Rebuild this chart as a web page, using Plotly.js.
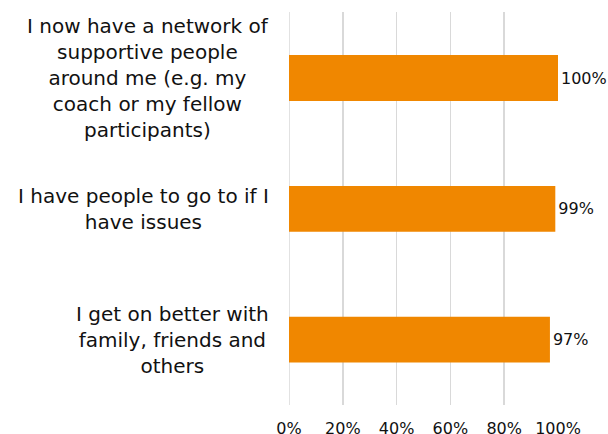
<!DOCTYPE html>
<html>
<head>
<meta charset="utf-8">
<script src="https://cdn.plot.ly/plotly-3.0.1.min.js"></script>
<style>html,body{margin:0;padding:0;background:#fff;}#chart{width:608px;height:434px;}</style>
</head>
<body>
<div id="chart"></div>
<script>
var categories = [
  "I now have a network of<br>supportive people<br>around me (e.g. my<br>coach or my fellow<br>participants)",
  "I have people to go to if I<br>have issues",
  "I get on better with<br>family, friends and<br>others"
];
var values = [100, 99, 97];
var valueLabels = ["100%", "99%", "97%"];
var tickValues = [0, 20, 40, 60, 80, 100];
var tickLabels = ["0%", "20%", "40%", "60%", "80%", "100%"];

var font = "DejaVu Sans, Verdana, sans-serif";
var ids = categories.map(function(_, i){ return "c" + i; });

var trace = {
  type: "bar",
  orientation: "h",
  y: ids,
  x: values,
  text: valueLabels,
  textposition: "outside",
  textfont: {family: font, size: 16, color: "#111"},
  cliponaxis: false,
  marker: {color: "#F08700", line: {width: 0}},
  width: 0.35,
  hoverinfo: "none"
};

var annotations = categories.map(function(c, i){
  return {
    text: c, xref: "paper", yref: "y", x: -0.068, y: ids[i],
    xanchor: "right", yanchor: "middle", align: "center", showarrow: false,
    font: {family: font, size: 20, color: "#111"}
  };
});

var layout = {
  width: 608, height: 434,
  margin: {l: 289, r: 50, t: 12, b: 29},
  paper_bgcolor: "#fff", plot_bgcolor: "#fff",
  showlegend: false,
  xaxis: {
    range: [0, 100], tickvals: tickValues, ticktext: tickLabels,
    showgrid: true, gridcolor: "#d9d9d9", gridwidth: 1.5,
    zeroline: false, showline: false, ticks: "",
    tickfont: {family: font, size: 16, color: "#111"},
    ticklabelstandoff: 12, fixedrange: true
  },
  yaxis: {
    autorange: "reversed", showticklabels: false, showgrid: false,
    zeroline: false, showline: false, ticks: "", fixedrange: true
  },
  shapes: [{type: "line", xref: "x", yref: "paper", x0: 0, x1: 0, y0: 0, y1: 1,
            line: {color: "#d9d9d9", width: 1.5}, layer: "below"}],
  annotations: annotations
};

Plotly.newPlot("chart", [trace], layout, {displayModeBar: false, staticPlot: true});
</script>
</body>
</html>
